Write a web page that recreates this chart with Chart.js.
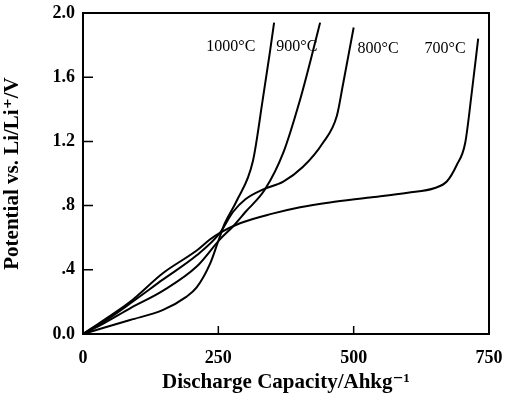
<!DOCTYPE html>
<html>
<head>
<meta charset="utf-8">
<script src="https://cdn.jsdelivr.net/npm/chart.js@4.4.1/dist/chart.umd.min.js"></script>
<style>
  html, body { margin: 0; padding: 0; background: #fff; }
  #wrap { width: 510px; height: 412px; }
</style>
</head>
<body>
<div id="wrap"><canvas id="myChart" width="510" height="412"></canvas></div>
<script>
// кривые разряда (емкость, потенциал)
const cap700 = [0, 40, 87, 148, 210, 235, 253, 290, 350, 401, 456, 530, 600, 650, 672, 690, 706, 718, 730];
const pot700 = [0, 0.09, 0.20, 0.38, 0.52, 0.59, 0.63, 0.69, 0.75, 0.79, 0.82, 0.85, 0.88, 0.91, 0.95, 1.05, 1.19, 1.50, 1.84];

const cap800 = [0, 40, 87, 148, 210, 253, 277, 300, 332, 370, 406, 443, 469, 480, 490, 500];
const pot800 = [0, 0.08, 0.19, 0.34, 0.49, 0.63, 0.76, 0.84, 0.90, 0.95, 1.04, 1.19, 1.36, 1.55, 1.73, 1.91];

const cap900 = [0, 40, 87, 148, 210, 253, 277, 300, 336, 370, 401, 420, 438];
const pot900 = [0, 0.07, 0.16, 0.27, 0.42, 0.59, 0.67, 0.76, 0.90, 1.13, 1.46, 1.70, 1.94];

const cap1000 = [0, 40, 87, 148, 190, 210, 235, 249, 262, 284, 314, 332, 345, 353];
const pot1000 = [0, 0.04, 0.087, 0.15, 0.23, 0.29, 0.44, 0.57, 0.69, 0.83, 1.08, 1.46, 1.75, 1.94];

// подписи кривых
const curveNames = ['1000°C', '900°C', '800°C', '700°C'];
const curveNameX = [273, 395, 545, 669];
const curveNameY = [1.79, 1.79, 1.78, 1.78];

// деления осей
const xTicks = [0, 250, 500, 750];
const yTicks = [0, 0.4, 0.8, 1.2, 1.6, 2.0];
const yTickLabels = ['0.0', '.4', '.8', '1.2', '1.6', '2.0'];

const serif = "'Liberation Serif', 'DejaVu Serif', serif";

function toPoints(xs, ys) {
    return xs.map((x, i) => ({ x: x, y: ys[i] }));
}

function makeSet(label, xs, ys) {
    return {
        label: label,
        data: toPoints(xs, ys),
        borderColor: '#000',
        borderWidth: 2,
        pointRadius: 0,
        fill: false,
        cubicInterpolationMode: 'monotone',
    };
}

// короткие засечки внутрь и подписи кривых
const innerTicks = {
    id: 'innerTicks',
    afterDatasetsDraw(chart) {
        const ctx = chart.ctx;
        const xs = chart.scales.x;
        const ys = chart.scales.y;
        const area = chart.chartArea;
        ctx.save();
        ctx.strokeStyle = '#000';
        ctx.lineWidth = 1.5;
        ctx.beginPath();
        yTicks.forEach(v => {
            const py = ys.getPixelForValue(v);
            ctx.moveTo(area.left, py);
            ctx.lineTo(area.left + 10, py);
        });
        xTicks.forEach(v => {
            const px = xs.getPixelForValue(v);
            ctx.moveTo(px, area.bottom);
            ctx.lineTo(px, area.bottom - 8);
        });
        ctx.stroke();

        ctx.fillStyle = '#000';
        ctx.font = '16px ' + serif;
        ctx.textAlign = 'center';
        ctx.textBaseline = 'middle';
        curveNames.forEach((name, i) => {
            ctx.fillText(name, xs.getPixelForValue(curveNameX[i]), ys.getPixelForValue(curveNameY[i]));
        });
        ctx.restore();
    }
};

const plot = document.getElementById('myChart').getContext('2d');
new Chart(plot, {
    type: 'line',
    data: {
        datasets: [
            makeSet('1000°C', cap1000, pot1000),
            makeSet('900°C', cap900, pot900),
            makeSet('800°C', cap800, pot800),
            makeSet('700°C', cap700, pot700),
        ],
    },
    options: {
        responsive: false,
        animation: false,
        layout: { padding: { top: 13, right: 21, left: 0, bottom: 0 } },
        plugins: {
            legend: { display: false },
            tooltip: { enabled: false },
        },
        scales: {
            x: {
                type: 'linear',
                min: 0,
                max: 750,
                afterBuildTicks: (scale) => { scale.ticks = xTicks.map(v => ({ value: v })); },
                afterFit: (scale) => { scale.height = 78; },
                grid: { display: false },
                border: { display: true, color: '#000', width: 2 },
                ticks: {
                    color: '#000',
                    padding: 6,
                    maxRotation: 0,
                    font: { family: serif, size: 18, weight: 'bold' },
                },
                title: {
                    display: true,
                    text: 'Discharge Capacity/Ahkg⁻¹',
                    color: '#000',
                    padding: { top: 4, bottom: 17 },
                    font: { family: serif, size: 21, weight: 'bold' },
                },
            },
            y: {
                type: 'linear',
                min: 0,
                max: 2.0,
                afterBuildTicks: (scale) => { scale.ticks = yTicks.map(v => ({ value: v })); },
                afterFit: (scale) => { scale.width = 83; },
                grid: { display: false },
                border: { display: true, color: '#000', width: 2 },
                ticks: {
                    color: '#000',
                    padding: 0,
                    font: { family: serif, size: 18, weight: 'bold' },
                    callback: (value) => {
                        const i = yTicks.findIndex(t => Math.abs(t - value) < 1e-6);
                        return i >= 0 ? yTickLabels[i] : '';
                    },
                },
                title: {
                    display: true,
                    text: 'Potential vs. Li/Li⁺/V',
                    color: '#000',
                    padding: { top: 0, bottom: 4 },
                    font: { family: serif, size: 21, weight: 'bold' },
                },
            },
            // рамка сверху и справа
            xTop: {
                type: 'linear',
                position: 'top',
                min: 0,
                max: 750,
                afterFit: (scale) => { scale.height = 0; },
                grid: { display: false },
                ticks: { display: false },
                border: { display: true, color: '#000', width: 2 },
            },
            yRight: {
                type: 'linear',
                position: 'right',
                min: 0,
                max: 2,
                afterFit: (scale) => { scale.width = 0; },
                grid: { display: false },
                ticks: { display: false },
                border: { display: true, color: '#000', width: 2 },
            },
        },
    },
    plugins: [innerTicks],
});
</script>
</body>
</html>
